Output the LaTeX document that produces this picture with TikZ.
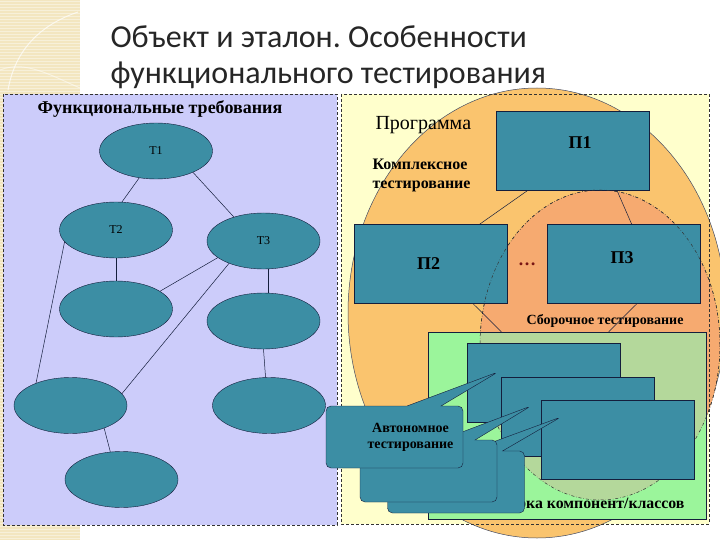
\documentclass[tikz,border=0pt]{standalone}
\usepackage{fontspec}
\setmainfont{Liberation Serif}
\newfontfamily\titlefont{Carlito}
\usepackage{xcolor}
\usetikzlibrary{shapes.geometric,shapes.callouts}
\frenchspacing

\definecolor{tealbox}{RGB}{60,142,164}
\definecolor{edgeblue}{RGB}{20,30,60}
\definecolor{lavender}{RGB}{204,204,250}
\definecolor{paleyellow}{RGB}{255,255,204}
\definecolor{progorange}{RGB}{250,196,110}
\definecolor{asmorange}{RGB}{246,170,112}
\definecolor{compgreen}{RGB}{155,245,155}
\definecolor{mixgreen}{RGB}{180,216,155}
\definecolor{beige}{RGB}{243,230,192}
\definecolor{dotred}{RGB}{120,20,20}

\begin{document}
\begin{tikzpicture}[
    x=1pt, y=-1pt,
    req/.style={ellipse, draw=edgeblue, fill=tealbox, minimum width=113pt, minimum height=56pt, inner sep=0pt, font=\fontsize{12}{14}\selectfont},
    module/.style={rectangle, draw=edgeblue, fill=tealbox, minimum width=153pt, minimum height=79pt, inner sep=0pt},
    modlbl/.style={font=\bfseries\fontsize{18}{20}\selectfont},
    note/.style={rectangle callout, draw=edgeblue, fill=tealbox, rounded corners=5pt, minimum width=137pt, minimum height=62pt, inner sep=0pt, callout pointer width=34pt},
    panel/.style={draw=black!80, dash pattern=on 3pt off 2pt, line width=0.6pt},
    link/.style={draw=edgeblue, line width=0.5pt}
]
\useasboundingbox (0,0) rectangle (720,540);
\fill[white] (0,0) rectangle (720,540);

% Background strip
\fill[beige] (0,0) rectangle (80,540);
\foreach \y in {1,4,...,540}
  \draw[white, opacity=0.4, line width=0.7pt] (0,\y) -- (80,\y);
\draw[white, opacity=0.7, line width=1pt] (8,90) .. controls (15,50) and (40,25) .. (78,12);
\draw[white, opacity=0.5, line width=1pt] (0,70) .. controls (25,60) and (50,75) .. (80,88);

% Title
\node[anchor=base west, font=\titlefont\fontsize{32}{38}\selectfont, text=black!85] (title1) at (107,48) {Объект и эталон. Особенности};
\node[anchor=base west, font=\titlefont\fontsize{32}{38}\selectfont, text=black!85] (title2) at (107,84) {функционального тестирования};

% Functional requirements
\fill[lavender] (3,94) rectangle (337,525);
\draw[panel] (3,94) rectangle (337,525);
\node[font=\bfseries\fontsize{18}{20}\selectfont] (reqtitle) at (160,109) {Функциональные требования};

\node[req] (t1) at (156,151) {Т1};
\node[req] (t2) at (116,230) {Т2};
\node[req] (t3) at (263.5,241) {Т3};
\node[req] (e4) at (116,309) {};
\node[req] (e5) at (263.5,321) {};
\node[req] (e6) at (70.5,405.5) {};
\node[req] (e7) at (269,405.5) {};
\node[req] (e8) at (121.5,479.5) {};

\draw[link] (t1.238) -- (t2.78);
\draw[link] (t1.330) -- (t3.141);
\draw[link] (t2.south) -- (e4.north);
\draw[link] (t2.193) -- (e6.147);
\draw[link] (t3.200) -- (e4.22);
\draw[link] (t3.213) -- (e6.13);
\draw[link] (t3.280) -- (e5.80);
\draw[link] (e5.south) -- (e7.97);
\draw[link] (e6.326) -- (e8.112);

% Program
\fill[paleyellow] (341,94) rectangle (709,524);
\draw[edgeblue!80, line width=0.5pt, fill=progorange] (537,313) ellipse [x radius=189pt, y radius=225pt];
\draw[black!80, dash dot, line width=0.5pt, fill=asmorange] (600,345) ellipse [x radius=120pt, y radius=155pt];
\draw[panel] (341,94) rectangle (709,524);

\node[anchor=base west, font=\fontsize{20}{22}\selectfont] (prog) at (372,130) {Программа};
\node[anchor=north west, align=left, font=\bfseries\fontsize{16}{19}\selectfont] (complex) at (369,155) {Комплексное\\тестирование};

\node[module] (p1) at (573,151) {};
\node[module] (p2) at (430.5,264) {};
\node[module] (p3) at (624,264) {};
\node[modlbl] at ([xshift=7pt,yshift=8pt]p1.center) {П1};
\node[modlbl] at ([xshift=-2pt]p2.center) {П2};
\node[modlbl] at ([xshift=-2pt,yshift=6pt]p3.center) {П3};
\node[modlbl, text=dotred] (dots) at (527,264) {…};
\node[font=\bfseries\fontsize{14}{16}\selectfont] (asmlbl) at (605,321) {Сборочное тестирование};

% Components
\node[draw=edgeblue, fill=compgreen, minimum width=278pt, minimum height=187pt, inner sep=0pt] (asm) at (567,425.5) {};
\begin{scope}
  \clip (600,345) ellipse [x radius=120pt, y radius=155pt];
  \fill[mixgreen] (asm.south west) rectangle (asm.north east);
\end{scope}
\draw[black!80, dash dot, line width=0.5pt] (600,345) ellipse [x radius=120pt, y radius=155pt];
\draw[edgeblue, line width=0.5pt] (asm.south west) rectangle (asm.north east);

\draw[link] (p1.221) -- (p2.39);
\draw[link] (p1.318) -- (p3.79);
\draw[link] (p2.317) -- (asm.125);
\draw[link] (p3.288) -- (asm.66);

\node[module] (r1) at (544,383) {};
\node[module] (r2) at (578,417) {};
\node[module] (r3) at (618,439.5) {};

\node[anchor=base east, font=\bfseries\fontsize{15.8}{17}\selectfont] (complbl) at (688,508) {Сборка компонент/классов};

% Unit testing callouts
\node[note, callout absolute pointer={(561,417)}] (c3) at (456,482) {};
\node[note, callout absolute pointer={(531,406)}] (c2) at (428.5,471) {};
\node[note, callout absolute pointer={(498,372)}] (c1) at (394.5,437) {};
\node[align=center, font=\bfseries\fontsize{14}{16}\selectfont] at ([xshift=16pt]c1.center) {Автономное\\тестирование};

\end{tikzpicture}
\end{document}
